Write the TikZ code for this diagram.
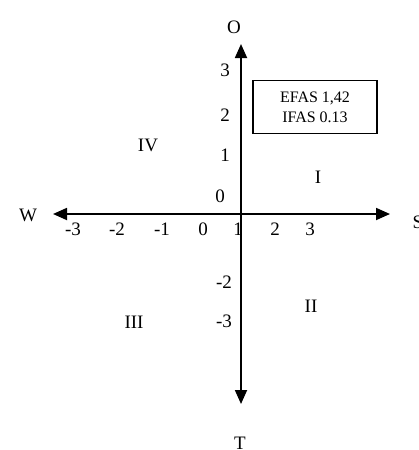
\documentclass[tikz,border=0pt]{standalone}
\usepackage{fontspec}
\setmainfont{Liberation Serif}
\usepackage{tikz}
\usetikzlibrary{arrows.meta,positioning}

\begin{document}
\begin{tikzpicture}[
  x=1pt, y=-1pt,
  lbl/.style={font=\fontsize{19}{21}\selectfont, inner sep=0pt},
  num/.style={lbl},
  quad/.style={lbl},
  axis/.style={line width=1.8pt, -{Triangle[length=14pt,width=12pt]}},
  infobox/.style={draw, line width=1.3pt, minimum width=124pt, minimum height=53pt,
    align=center, font=\fontsize{16}{20}\selectfont}
]
  \useasboundingbox (0,0) rectangle (419,450);
  % axes
  \coordinate (orig) at (241,214);
  \coordinate (otip) at (241,44);
  \coordinate (ttip) at (241,404);
  \coordinate (wtip) at (53,214);
  \coordinate (stip) at (390,214);
  \draw[axis] (orig) -- (otip);
  \draw[axis] (orig) -- (ttip);
  \draw[axis] (orig) -- (wtip);
  \draw[axis] (orig) -- (stip);
  % directions
  \node[lbl] (o) at (234,27) {O};
  \node[lbl] (t) at (240,443) {T};
  \node[lbl] (w) at (28,215) {W};
  \node[lbl] (s) at (418,222) {S};
  % ticks on the horizontal axis
  \foreach \v/\px in {-3/73,-2/117,-1/162,0/203,1/238,2/275,3/310}
    \node[num] (h\v) at (\px,229) {\v};
  % ticks on the vertical axis
  \foreach \v/\py in {3/70,2/115,1/155}
    \node[num] (v\v) at (225,\py) {\v};
  \node[num] (v0) at (220,196) {0};
  \node[num] (vm2) at (224,282) {-2};
  \node[num] (vm3) at (224,321) {-3};
  % quadrants
  \node[quad] (q1) at (318,177) {I};
  \node[quad] (q2) at (311,306) {II};
  \node[quad] (q3) at (134,322) {III};
  \node[quad] (q4) at (148,145) {IV};
  % scores
  \node[infobox] (score) at (315,107) {EFAS 1,42\\IFAS 0.13};
\end{tikzpicture}
\end{document}
